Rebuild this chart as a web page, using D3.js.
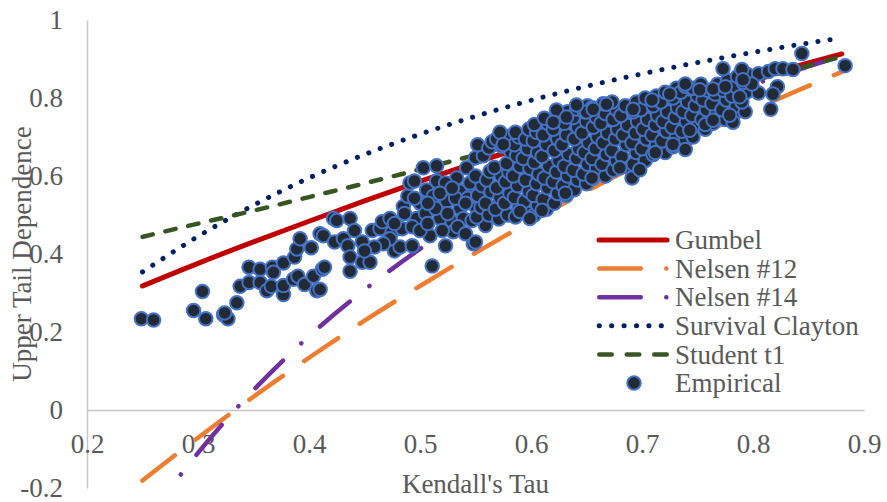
<!DOCTYPE html>
<html>
<head>
<meta charset="utf-8">
<script src="https://cdn.jsdelivr.net/npm/d3@7/dist/d3.min.js"></script>
<style>
  html, body { margin: 0; padding: 0; background: #ffffff; }
  svg text { font-family: "Liberation Serif", "Times New Roman", serif; fill: #595959; }
</style>
</head>
<body>
<svg id="chart" width="887" height="502"></svg>
<script>
// Kendall's tau grid used for the copula curves
const tauGrid = [0.25, 0.30, 0.35, 0.40, 0.45, 0.50, 0.55, 0.60, 0.65, 0.70, 0.75, 0.80, 0.85, 0.88];

// Upper tail dependence implied by each copula family
const gumbel          = [0.318, 0.376, 0.431, 0.484, 0.536, 0.586, 0.634, 0.681, 0.725, 0.769, 0.811, 0.851, 0.890, 0.913];
const nelsen12        = [-0.181, -0.071, 0.034, 0.134, 0.229, 0.318, 0.403, 0.484, 0.561, 0.634, 0.703, 0.769, 0.831, 0.867];
const nelsen14        = [-0.297, -0.110, 0.051, 0.189, 0.308, 0.413, 0.505, 0.586, 0.658, 0.723, 0.781, 0.834, 0.881, 0.908];
const survivalClayton = [0.354, 0.445, 0.525, 0.595, 0.655, 0.707, 0.753, 0.794, 0.830, 0.862, 0.891, 0.917, 0.941, 0.954];
const studentT1       = [0.444, 0.478, 0.511, 0.546, 0.581, 0.617, 0.654, 0.691, 0.729, 0.767, 0.805, 0.844, 0.883, 0.906];

// Empirical estimates: [Kendall's tau, upper tail dependence]
const empirical = [
  [0.249,0.234],[0.260,0.231],[0.304,0.304],[0.296,0.255],[0.307,0.234],[0.323,0.244],[0.327,0.234],[0.324,0.249],
  [0.335,0.275],[0.338,0.317],[0.346,0.327],[0.346,0.366],[0.356,0.361],[0.356,0.327],[0.362,0.306],[0.366,0.317],
  [0.367,0.366],[0.368,0.353],[0.377,0.377],[0.377,0.296],[0.377,0.319],[0.386,0.335],[0.387,0.392],[0.389,0.413],
  [0.392,0.439],[0.390,0.343],[0.396,0.322],[0.402,0.416],[0.404,0.343],[0.407,0.306],[0.412,0.361],[0.410,0.452],
  [0.413,0.447],[0.410,0.309],[0.422,0.491],[0.425,0.486],[0.437,0.491],[0.423,0.431],[0.431,0.439],[0.435,0.421],
  [0.437,0.392],[0.437,0.356],[0.441,0.460],[0.448,0.431],[0.448,0.379],[0.455,0.379],[0.414,0.366],[0.457,0.460],
  [0.464,0.465],[0.466,0.483],[0.473,0.491],[0.475,0.457],[0.477,0.408],[0.482,0.418],[0.484,0.465],[0.485,0.522],
  [0.489,0.548],[0.491,0.582],[0.493,0.421],[0.495,0.587],[0.497,0.491],[0.503,0.621],[0.515,0.626],[0.515,0.587],
  [0.506,0.564],[0.512,0.548],[0.509,0.447],[0.511,0.369],[0.523,0.421],[0.518,0.491],[0.524,0.535],[0.529,0.483],
  [0.530,0.457],[0.533,0.595],[0.536,0.561],[0.536,0.517],[0.542,0.621],[0.539,0.491],[0.547,0.486],[0.548,0.426],
  [0.548,0.569],[0.550,0.647],[0.551,0.517],[0.486,0.504],[0.493,0.470],[0.500,0.530],[0.505,0.504],[0.500,0.460],
  [0.507,0.478],[0.514,0.517],[0.520,0.460],[0.525,0.504],[0.532,0.543],[0.534,0.470],[0.541,0.452],[0.543,0.543],
  [0.545,0.582],[0.541,0.530],[0.473,0.439],[0.467,0.426],[0.477,0.478],[0.523,0.582],[0.518,0.556],[0.529,0.569],
  [0.507,0.530],[0.495,0.543],[0.459,0.418],[0.450,0.408],[0.550,0.431],[0.559,0.473],
  [0.551,0.495],[0.555,0.520],[0.552,0.550],[0.556,0.575],[0.550,0.600],[0.557,0.652],[0.552,0.680],
  [0.562,0.500],[0.559,0.530],[0.564,0.560],[0.560,0.590],[0.563,0.612],[0.562,0.672],[0.565,0.688],
  [0.571,0.490],[0.568,0.515],[0.572,0.545],[0.569,0.570],[0.573,0.600],[0.567,0.622],[0.574,0.676],[0.569,0.695],
  [0.579,0.500],[0.576,0.530],[0.581,0.555],[0.577,0.585],[0.580,0.610],[0.578,0.632],[0.582,0.662],[0.576,0.684],[0.580,0.702],
  [0.586,0.495],[0.589,0.520],[0.585,0.545],[0.588,0.575],[0.584,0.600],[0.590,0.625],[0.587,0.652],[0.585,0.680],[0.589,0.700],[0.586,0.712],
  [0.597,0.505],[0.594,0.535],[0.598,0.560],[0.595,0.590],[0.599,0.620],[0.593,0.645],[0.597,0.670],[0.595,0.695],[0.598,0.720],
  [0.603,0.500],[0.606,0.525],[0.602,0.550],[0.605,0.580],[0.607,0.605],[0.603,0.635],[0.606,0.660],[0.602,0.690],[0.605,0.712],[0.603,0.732],
  [0.614,0.515],[0.611,0.540],[0.615,0.570],[0.612,0.595],[0.616,0.625],[0.610,0.650],[0.614,0.680],[0.611,0.705],[0.615,0.735],[0.612,0.748],
  [0.621,0.530],[0.624,0.555],[0.620,0.585],[0.623,0.610],[0.625,0.640],[0.621,0.665],[0.624,0.695],[0.620,0.720],[0.623,0.745],[0.626,0.760],
  [0.632,0.550],[0.629,0.575],[0.633,0.600],[0.630,0.625],[0.634,0.655],[0.628,0.680],[0.632,0.705],[0.630,0.735],[0.633,0.765],
  [0.639,0.565],[0.642,0.590],[0.638,0.615],[0.641,0.645],[0.643,0.670],[0.639,0.695],[0.642,0.725],[0.638,0.750],[0.641,0.772],
  [0.650,0.580],[0.647,0.605],[0.651,0.630],[0.648,0.660],[0.652,0.685],[0.646,0.710],[0.650,0.740],[0.648,0.765],[0.651,0.780],
  [0.656,0.595],[0.659,0.620],[0.655,0.645],[0.658,0.670],[0.660,0.700],[0.656,0.725],[0.659,0.750],[0.655,0.775],
  [0.667,0.600],[0.664,0.630],[0.668,0.655],[0.665,0.685],[0.669,0.710],[0.663,0.735],[0.667,0.760],[0.665,0.785],
  [0.674,0.615],[0.677,0.640],[0.673,0.665],[0.676,0.695],[0.678,0.720],[0.674,0.745],[0.677,0.770],[0.673,0.790],
  [0.685,0.625],[0.682,0.650],[0.686,0.680],[0.683,0.705],[0.687,0.730],[0.681,0.755],[0.685,0.780],
  [0.692,0.630],[0.695,0.660],[0.691,0.685],[0.694,0.710],[0.696,0.740],[0.692,0.765],[0.695,0.790],
  [0.703,0.640],[0.700,0.670],[0.704,0.695],[0.701,0.720],[0.705,0.745],[0.699,0.770],[0.703,0.800],
  [0.710,0.655],[0.713,0.680],[0.709,0.705],[0.712,0.730],[0.714,0.755],[0.710,0.780],[0.713,0.805],
  [0.721,0.660],[0.718,0.690],[0.722,0.715],[0.719,0.740],[0.723,0.765],[0.717,0.790],[0.721,0.815],
  [0.728,0.675],[0.731,0.700],[0.727,0.725],[0.730,0.750],[0.732,0.775],[0.728,0.800],[0.731,0.825],
  [0.739,0.690],[0.736,0.715],[0.740,0.740],[0.737,0.765],[0.741,0.790],[0.735,0.815],[0.739,0.830],
  [0.746,0.700],[0.749,0.730],[0.745,0.755],[0.748,0.780],[0.750,0.805],[0.746,0.825],
  [0.757,0.720],[0.754,0.745],[0.758,0.770],[0.755,0.795],[0.759,0.820],[0.753,0.835],
  [0.764,0.735],[0.767,0.760],[0.763,0.785],[0.766,0.810],[0.768,0.835],
  [0.775,0.745],[0.772,0.770],[0.776,0.795],[0.773,0.820],[0.777,0.845],
  [0.782,0.755],[0.785,0.780],[0.781,0.805],[0.784,0.830],[0.786,0.855],
  [0.793,0.765],[0.790,0.790],[0.794,0.815],[0.791,0.840],[0.795,0.860],
  [0.691,0.595],[0.698,0.616],[0.680,0.621],[0.710,0.655],[0.728,0.681],[0.739,0.668],[0.743,0.717],[0.757,0.732],[0.712,0.660],
  [0.668,0.784],[0.692,0.771],[0.709,0.795],[0.725,0.810],[0.739,0.836],[0.752,0.821],[0.764,0.823],
  [0.623,0.769],[0.632,0.751],[0.650,0.764],[0.620,0.738],[0.572,0.712],[0.575,0.681],[0.641,0.782],[0.656,0.771],
  [0.610,0.512],[0.590,0.509],[0.599,0.491],[0.631,0.556],[0.655,0.595],
  [0.773,0.875],[0.790,0.873],[0.805,0.862],[0.814,0.868],[0.820,0.875],[0.827,0.875],[0.836,0.873],[0.844,0.914],
  [0.883,0.883],[0.822,0.829],[0.818,0.810],[0.816,0.771],[0.805,0.813],[0.799,0.836],[0.791,0.847],[0.782,0.738],
  [0.779,0.756],[0.775,0.829],[0.764,0.743],[0.788,0.803]
];

const xTicks = [0.2, 0.3, 0.4, 0.5, 0.6, 0.7, 0.8, 0.9];
const xTickLabels = ["0.2", "0.3", "0.4", "0.5", "0.6", "0.7", "0.8", "0.9"];
const yTicks = [-0.2, 0, 0.2, 0.4, 0.6, 0.8, 1];
const yTickLabels = ["-0.2", "0", "0.2", "0.4", "0.6", "0.8", "1"];

const seriesNames = ["Gumbel", "Nelsen #12", "Nelsen #14", "Survival Clayton", "Student t1", "Empirical"];

const svg = d3.select("#chart");
const FONT = 27;
const FAMILY = '"Liberation Serif", "Times New Roman", serif';
const TEXT = "#595959";
const AXIS = "#c6c6c6";

// shared text styling
const styleText = sel => sel
  .attr("font-family", FAMILY)
  .style("font-family", FAMILY)
  .style("font-size", FONT + "px")
  .style("fill", TEXT);

const x = d3.scaleLinear().domain([0.2, 0.9]).range([87, 864]);
const y = d3.scaleLinear().domain([-0.2, 1]).range([488, 20]);

// plot-area clip so curves stop at the axis limits
svg.append("defs").append("clipPath").attr("id", "plotClip")
  .append("rect")
  .attr("x", x(0.2)).attr("y", y(1))
  .attr("width", x(0.9) - x(0.2)).attr("height", y(-0.2) - y(1));

// axes
const gy = svg.append("g")
  .attr("transform", `translate(${x(0.2)},0)`)
  .call(d3.axisLeft(y).tickValues(yTicks).tickSize(0).tickSizeOuter(0).tickPadding(24)
    .tickFormat((d, i) => yTickLabels[i]));
const gx = svg.append("g")
  .attr("transform", `translate(0,${y(0)})`)
  .call(d3.axisBottom(x).tickValues(xTicks).tickSize(0).tickSizeOuter(0).tickPadding(24)
    .tickFormat((d, i) => xTickLabels[i]));
[gx, gy].forEach(g => {
  g.attr("font-family", FAMILY);
  g.select(".domain").attr("stroke", AXIS).attr("stroke-width", 1.5);
  g.selectAll("text").call(styleText);
});
gy.selectAll("text").attr("dy", "0.30em");

// axis titles
svg.append("text")
  .attr("x", (x(0.2) + x(0.9)) / 2).attr("y", 493)
  .attr("text-anchor", "middle")
  .call(styleText)
  .text("Kendall's Tau");
svg.append("text")
  .attr("transform", `translate(31,${(y(1) + y(-0.2)) / 2}) rotate(-90)`)
  .attr("text-anchor", "middle")
  .call(styleText)
  .text("Upper Tail Dependence");

// copula curves
const curves = [
  { name: seriesNames[0], values: gumbel, color: "#c00000", width: 5, dash: null, legendDash: null },
  { name: seriesNames[1], values: nelsen12, color: "#ed7d31", width: 4.5, dash: "41,26", legendDash: "41.5,25.5,0.1,40" },
  { name: seriesNames[2], values: nelsen14, color: "#7030a0", width: 4.5, dash: "39,25,0.1,25", legendDash: "41.5,25.5,0.1,40" },
  { name: seriesNames[3], values: survivalClayton, color: "#002060", width: 5, dash: "0.1,12.1", legendDash: "0.1,12.3" },
  { name: seriesNames[4], values: studentT1, color: "#375623", width: 4.5, dash: "10.5,13", legendDash: "12.5,15" }
];

const line = d3.line()
  .x(d => x(d[0]))
  .y(d => y(d[1]))
  .curve(d3.curveMonotoneX);

const plot = svg.append("g").attr("clip-path", "url(#plotClip)");
curves.forEach(c => {
  plot.append("path")
    .datum(tauGrid.map((t, i) => [t, c.values[i]]))
    .attr("d", line)
    .attr("fill", "none")
    .attr("stroke", c.color)
    .attr("stroke-width", c.width)
    .attr("stroke-linecap", "round")
    .attr("stroke-linejoin", "round")
    .attr("stroke-dasharray", c.dash);
});

// empirical scatter
const POINT_FILL = "#222a35";
const POINT_STROKE = "#4472c4";
svg.append("g").selectAll("circle")
  .data(empirical)
  .join("circle")
  .attr("cx", d => x(d[0]))
  .attr("cy", d => y(d[1]))
  .attr("r", 6.75)
  .attr("fill", POINT_FILL)
  .attr("stroke", POINT_STROKE)
  .attr("stroke-width", 2);

// legend
const legend = svg.append("g");
const rowY = i => 240 + i * 28.6;
curves.forEach((c, i) => {
  const yy = rowY(i);
  legend.append("line")
    .attr("x1", c.dash ? 599.25 : 599).attr("x2", 667)
    .attr("y1", yy).attr("y2", yy)
    .attr("stroke", c.color)
    .attr("stroke-width", c.width)
    .attr("stroke-linecap", "round")
    .attr("stroke-dasharray", c.legendDash);
});
legend.append("circle")
  .attr("cx", 634).attr("cy", rowY(5)).attr("r", 6.75)
  .attr("fill", POINT_FILL).attr("stroke", POINT_STROKE).attr("stroke-width", 2);
seriesNames.forEach((n, i) => {
  legend.append("text")
    .attr("x", 675).attr("y", rowY(i))
    .attr("dy", "0.34em")
    .call(styleText)
    .text(n);
});
</script>
</body>
</html>
